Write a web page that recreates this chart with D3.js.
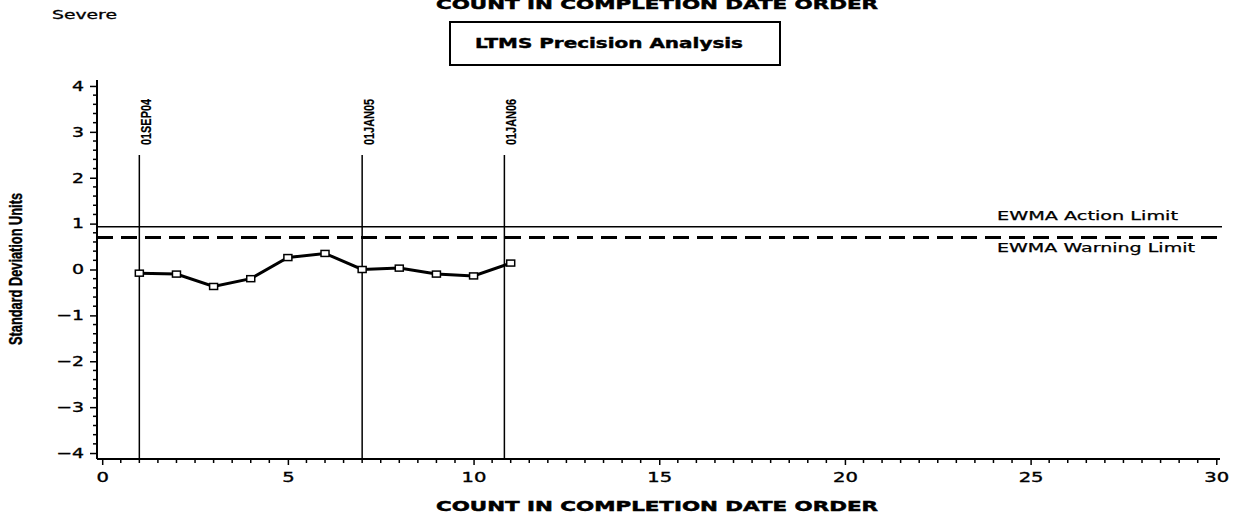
<!DOCTYPE html>
<html>
<head>
<meta charset="utf-8">
<script src="https://cdn.jsdelivr.net/npm/d3@7"></script>
<style>
  html, body { margin: 0; padding: 0; background: #fff; }
  svg { display: block; }
  text { fill: #000; }
</style>
</head>
<body>
<svg id="chart" width="1241" height="518"></svg>
<script>
// ---- data ----
const counts = [1, 2, 3, 4, 5, 6, 7, 8, 9, 10, 11];
const ewma = [-0.08, -0.10, -0.37, -0.20, 0.26, 0.35, 0.00, 0.03, -0.10, -0.14, 0.14];
const dateMarks = [1, 7, 10.83];
const dateLabels = ["01SEP04", "01JAN05", "01JAN06"];
const limitValues = [0.93, 0.70];
const limitLabels = ["EWMA Action Limit", "EWMA Warning Limit"];
const xTicks = [0, 5, 10, 15, 20, 25, 30];
const yTicks = [-4, -3, -2, -1, 0, 1, 2, 3, 4];
const titleText = "COUNT IN COMPLETION DATE ORDER";
const boxTitle = "LTMS Precision Analysis";
const cornerText = "Severe";
const yTitle = "Standard Deviation Units";

// ---- layout ----
const svg = d3.select("#chart");
const wide = "'DejaVu Sans', sans-serif";
const narrow = "'Liberation Sans Narrow', 'Liberation Sans', sans-serif";
const x = d3.scaleLinear().domain([-0.14, 30.1]).range([97, 1220]);
const y = d3.scaleLinear().domain([-4.13, 4.13]).range([459, 80]);

function stretch(sel, k) {
  sel.each(function() {
    const w = this.getComputedTextLength();
    d3.select(this).attr("textLength", w * k).attr("lengthAdjust", "spacingAndGlyphs");
  });
}
function fitTo(sel, w) {
  sel.attr("textLength", w).attr("lengthAdjust", "spacingAndGlyphs");
}

// titles
svg.append("text").attr("x", 52).attr("y", 19)
  .attr("font-family", wide).attr("font-size", 12.5).attr("stroke", "#000").attr("stroke-width", 0.3)
  .text(cornerText).call(fitTo, 65);

svg.append("text").attr("x", 657).attr("y", 9).attr("text-anchor", "middle")
  .attr("font-family", wide).attr("font-weight", "bold").attr("font-size", 14.5)
  .attr("stroke", "#000").attr("stroke-width", 0.5)
  .text(titleText).call(fitTo, 442);

svg.append("rect").attr("x", 450).attr("y", 22).attr("width", 330).attr("height", 43)
  .attr("fill", "none").attr("stroke", "#000").attr("stroke-width", 2);
svg.append("text").attr("x", 609).attr("y", 48).attr("text-anchor", "middle")
  .attr("font-family", wide).attr("font-weight", "bold").attr("font-size", 13.5)
  .attr("stroke", "#000").attr("stroke-width", 0.4)
  .text(boxTitle).call(fitTo, 268);

// axes
const xAxis = d3.axisBottom(x).tickValues(xTicks).tickSize(6).tickPadding(6).tickFormat(d3.format("d"));
const gx = svg.append("g").attr("transform", "translate(0,459)").call(xAxis);
gx.select(".domain").attr("d", `M${x.range()[0]},0H${x.range()[1]}`).attr("stroke-width", 2);
gx.selectAll(".tick line").attr("stroke-width", 1.5);
gx.selectAll(".tick text").attr("font-family", wide).attr("font-size", 13.5)
  .attr("stroke", "#000").attr("stroke-width", 0.35)
  .attr("dy", "0.85em").call(stretch, 1.45);
const xMinor = d3.range(0, 30.01, 0.5).filter(v => v % 5 !== 0);
svg.append("g").selectAll("line").data(xMinor).join("line")
  .attr("x1", d => x(d)).attr("x2", d => x(d)).attr("y1", 459).attr("y2", 463)
  .attr("stroke", "#000").attr("stroke-width", 1.5);

const yAxis = d3.axisLeft(y).tickValues(yTicks).tickSize(7).tickPadding(6)
  .tickFormat(d => d < 0 ? "\u2212" + Math.abs(d) : String(d));
const gy = svg.append("g").attr("transform", "translate(97,0)").call(yAxis);
gy.select(".domain").attr("d", `M0,${y.range()[1]}V${y.range()[0]}`).attr("stroke-width", 2);
gy.selectAll(".tick line").attr("stroke-width", 1.5);
gy.selectAll(".tick text").attr("font-family", wide).attr("font-size", 13.5)
  .attr("stroke", "#000").attr("stroke-width", 0.35).call(stretch, 1.4);
const yMinor = d3.range(-40, 41, 2).filter(v => v % 10 !== 0).map(v => v / 10);
svg.append("g").selectAll("line").data(yMinor).join("line")
  .attr("x1", 93).attr("x2", 97).attr("y1", d => y(d)).attr("y2", d => y(d))
  .attr("stroke", "#000").attr("stroke-width", 1.5);

svg.append("text").attr("transform", "translate(22,269) rotate(-90)")
  .attr("text-anchor", "middle").attr("font-family", narrow).attr("font-weight", "bold")
  .attr("font-size", 18).attr("stroke", "#000").attr("stroke-width", 0.4)
  .text(yTitle).call(fitTo, 152);

svg.append("text").attr("x", 657).attr("y", 511).attr("text-anchor", "middle")
  .attr("font-family", wide).attr("font-weight", "bold").attr("font-size", 14.5)
  .attr("stroke", "#000").attr("stroke-width", 0.5)
  .text(titleText).call(fitTo, 442);

// limit lines
const limEnd = 1222;
svg.append("line").attr("x1", 97).attr("x2", limEnd)
  .attr("y1", y(limitValues[0])).attr("y2", y(limitValues[0]))
  .attr("stroke", "#000").attr("stroke-width", 1.5);
svg.append("line").attr("x1", 97).attr("x2", limEnd)
  .attr("y1", y(limitValues[1])).attr("y2", y(limitValues[1]))
  .attr("stroke", "#000").attr("stroke-width", 3).attr("stroke-dasharray", "16,8");
svg.append("text").attr("x", 997).attr("y", y(limitValues[0]) - 7)
  .attr("font-family", wide).attr("font-size", 12).attr("stroke", "#000").attr("stroke-width", 0.25)
  .text(limitLabels[0]).call(fitTo, 181);
svg.append("text").attr("x", 997).attr("y", y(limitValues[1]) + 15)
  .attr("font-family", wide).attr("font-size", 12).attr("stroke", "#000").attr("stroke-width", 0.25)
  .text(limitLabels[1]).call(fitTo, 198);

// date reference lines
const dg = svg.append("g");
dg.selectAll("line").data(dateMarks).join("line")
  .attr("x1", d => x(d)).attr("x2", d => x(d)).attr("y1", 155).attr("y2", 459)
  .attr("stroke", "#000").attr("stroke-width", 1.5);
dg.selectAll("text").data(dateMarks).join("text")
  .attr("transform", d => `translate(${x(d) + 12},145) rotate(-90)`)
  .attr("font-family", narrow).attr("font-weight", "bold").attr("font-size", 15)
  .attr("stroke", "#000").attr("stroke-width", 0.2)
  .text((d, i) => dateLabels[i]).call(fitTo, 46);

// series
const pts = counts.map((c, i) => [c, ewma[i]]);
svg.append("path").datum(pts)
  .attr("d", d3.line().x(d => x(d[0])).y(d => y(d[1])))
  .attr("fill", "none").attr("stroke", "#000").attr("stroke-width", 3);
svg.append("g").selectAll("rect").data(pts).join("rect")
  .attr("x", d => x(d[0]) - 4).attr("y", d => y(d[1]) - 3)
  .attr("width", 8).attr("height", 6)
  .attr("fill", "#fff").attr("stroke", "#000").attr("stroke-width", 1.5);
</script>
</body>
</html>
